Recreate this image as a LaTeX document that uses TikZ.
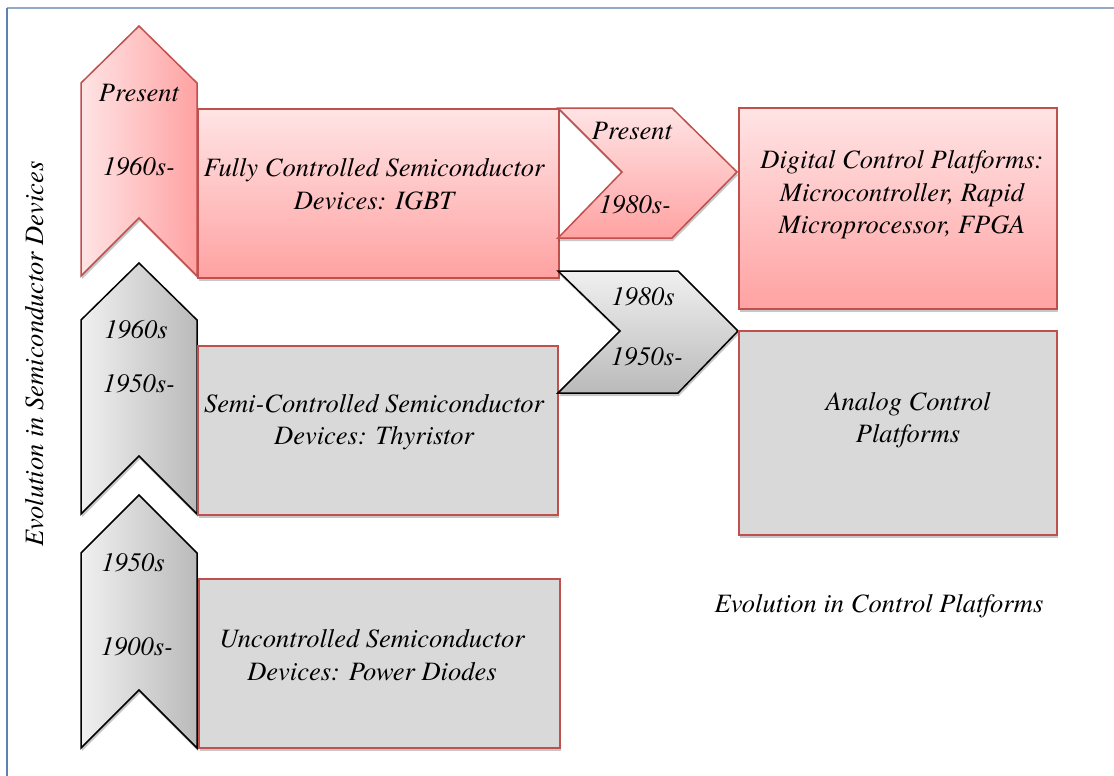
\documentclass[tikz,border=0pt]{standalone}
\usepackage{fontspec}
\newfontfamily\termes{TeX Gyre Termes}
\usetikzlibrary{shadows}
\definecolor{accred}{HTML}{C0504D}
\definecolor{pinklight}{HTML}{FFE4E5}
\definecolor{pinkdark}{HTML}{FFA2A2}
\definecolor{graylight}{HTML}{F0F0F0}
\definecolor{graydark}{HTML}{BABABA}
\definecolor{boxgray}{HTML}{D9D9D9}
\definecolor{frametop}{HTML}{93AAC6}
\definecolor{frameleft}{HTML}{5B82B0}
\tikzset{
  softshadow/.style={drop shadow={shadow xshift=1pt, shadow yshift=-3pt, opacity=0.22, fill=black}},
  lbl/.style={font=\termes\itshape\fontsize{26.5}{32.5}\selectfont, align=center, inner sep=0pt},
  pinkbox/.style={draw=accred, line width=1.5pt, top color=pinklight, bottom color=pinkdark, softshadow, anchor=north west, inner sep=0pt},
  graybox/.style={draw=accred, line width=1.5pt, fill=boxgray, softshadow, anchor=north west, inner sep=0pt},
  pinkvchev/.style={draw=accred, line width=1.5pt, left color=pinklight, right color=pinkdark, softshadow},
  grayvchev/.style={draw=black, line width=1.5pt, left color=graylight, right color=graydark, softshadow},
  pinkhchev/.style={draw=accred, line width=1.5pt, top color=pinklight, bottom color=pinkdark, softshadow},
  grayhchev/.style={draw=black, line width=1.5pt, top color=graylight, bottom color=graydark, softshadow},
}
\begin{document}
\begin{tikzpicture}[x=1pt, y=-1pt]
\useasboundingbox (0,0) rectangle (1114,776);
\fill[white] (0,0) rectangle (1114,776);
% frame
\draw[frametop, line width=2pt] (7,8) -- (1114,8);
\draw[frameleft, line width=1.5pt] (7,8) -- (7,776);

% vertical chevrons (left column)
\path[pinkvchev] (81,83) -- (139,26) -- (197,83) -- (197,276) -- (139,218) -- (81,276) -- cycle;
\path[grayvchev] (81,320) -- (139,263) -- (197,320) -- (197,514) -- (139,456) -- (81,514) -- cycle;
\path[grayvchev] (81,553) -- (139,495) -- (197,553) -- (197,748) -- (139,690) -- (81,748) -- cycle;

% device boxes
\node[pinkbox, minimum width=361pt, minimum height=169pt] (igbt) at (197,108) {};
\node[graybox, minimum width=360pt, minimum height=169pt] (thy) at (197,345) {};
\node[graybox, minimum width=361pt, minimum height=169pt] (diode) at (198,578) {};

% horizontal chevrons
\path[pinkhchev] (558,108) -- (672,108) -- (737,172) -- (672,238) -- (558,238) -- (622,172) -- cycle;
\path[grayhchev] (558,271) -- (678,271) -- (738,331) -- (678,393) -- (558,393) -- (620,331) -- cycle;

% platform boxes
\node[pinkbox, minimum width=318pt, minimum height=201pt] (digital) at (738,107) {};
\node[graybox, minimum width=318pt, minimum height=204pt] (analog) at (738,330) {};

% texts
\node[lbl] (t1) at (139,93) {Present};
\node[lbl] (t2) at (139,167) {1960s-};
\node[lbl] (t3) at (374,184) {Fully Controlled Semiconductor\\Devices: IGBT};
\node[lbl] (t4) at (632,131) {Present};
\node[lbl] (t5) at (635,205) {1980s-};
\node[lbl] (t6) at (643,297) {1980s};
\node[lbl] (t7) at (647,357) {1950s-};
\node[lbl] (t8) at (902,195) {Digital Control Platforms:\\Microcontroller, Rapid\\Microprocessor, FPGA};
\node[lbl] (t9) at (908,420) {Analog Control\\Platforms};
\node[lbl] (t10) at (136,330) {1960s};
\node[lbl] (t11) at (139,384) {1950s-};
\node[lbl] (t12) at (374,422) {Semi-Controlled Semiconductor\\Devices: Thyristor};
\node[lbl] (t13) at (133,563) {1950s};
\node[lbl] (t14) at (137,647) {1900s-};
\node[lbl] (t15) at (372,655) {Uncontrolled Semiconductor\\Devices: Power Diodes};
\node[lbl] (t16) at (879,606) {Evolution in Control Platforms};
\node[lbl, rotate=90] (t17) at (35,354) {Evolution in Semiconductor Devices};
\end{tikzpicture}
\end{document}
